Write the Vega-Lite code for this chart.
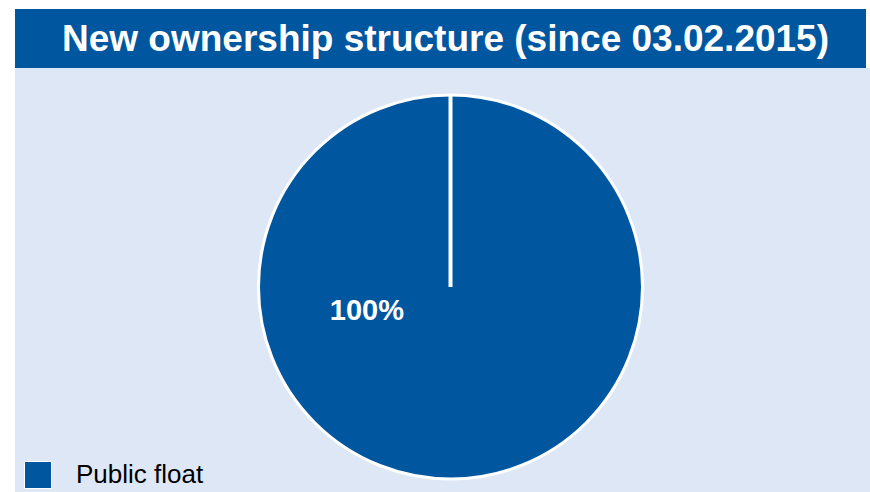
{
  "$schema": "https://vega.github.io/schema/vega-lite/v6.json",
  "background": "white",
  "padding": {"left": 15, "top": 9, "right": 0, "bottom": 0},
  "spacing": 0,
  "config": {"view": {"stroke": null}, "font": "Liberation Sans"},
  "vconcat": [
    {
      "width": 851,
      "height": 59,
      "view": {"fill": "#0057a0", "stroke": null},
      "data": {"values": [{"title": "New ownership structure (since 03.02.2015)"}]},
      "mark": {"type": "text", "fontSize": 37, "fontWeight": "bold", "color": "white", "font": "Liberation Sans", "dx": 5, "dy": 1, "baseline": "middle", "align": "center"},
      "encoding": {"text": {"field": "title", "type": "nominal"}}
    },
    {
      "width": 871,
      "height": 438,
      "view": {"fill": "#dee7f6", "stroke": null},
      "data": {"values": [{"holder": "Public float", "share": 1}]},
      "layer": [
        {
          "mark": {"type": "arc", "outerRadius": 192, "stroke": "white", "strokeWidth": 3},
          "encoding": {
            "theta": {"field": "share", "type": "quantitative", "stack": true},
            "color": {
              "field": "holder",
              "type": "nominal",
              "scale": {"range": ["#0057a0"]},
              "legend": {
                "orient": "none",
                "legendX": 9,
                "legendY": 452,
                "title": null,
                "symbolType": "square",
                "symbolSize": 729,
                "symbolStrokeColor": "white",
                "symbolStrokeWidth": 1,
                "symbolOpacity": 1,
                "labelFontSize": 26,
                "labelFont": "Liberation Sans",
                "labelColor": "black",
                "labelOffset": 24,
                "padding": 0
              }
            }
          }
        },
        {
          "mark": {"type": "arc", "theta": 0, "theta2": 0.000001, "outerRadius": 192, "stroke": "white", "strokeWidth": 4, "fill": null},
          "encoding": {}
        },
        {
          "mark": {"type": "text", "theta": 4.43, "radius": 87, "fontSize": 29, "fontWeight": "bold", "color": "white", "font": "Liberation Sans", "align": "center", "baseline": "middle"},
          "encoding": {"text": {"field": "share", "type": "quantitative", "format": ".0%"}}
        }
      ]
    }
  ]
}
